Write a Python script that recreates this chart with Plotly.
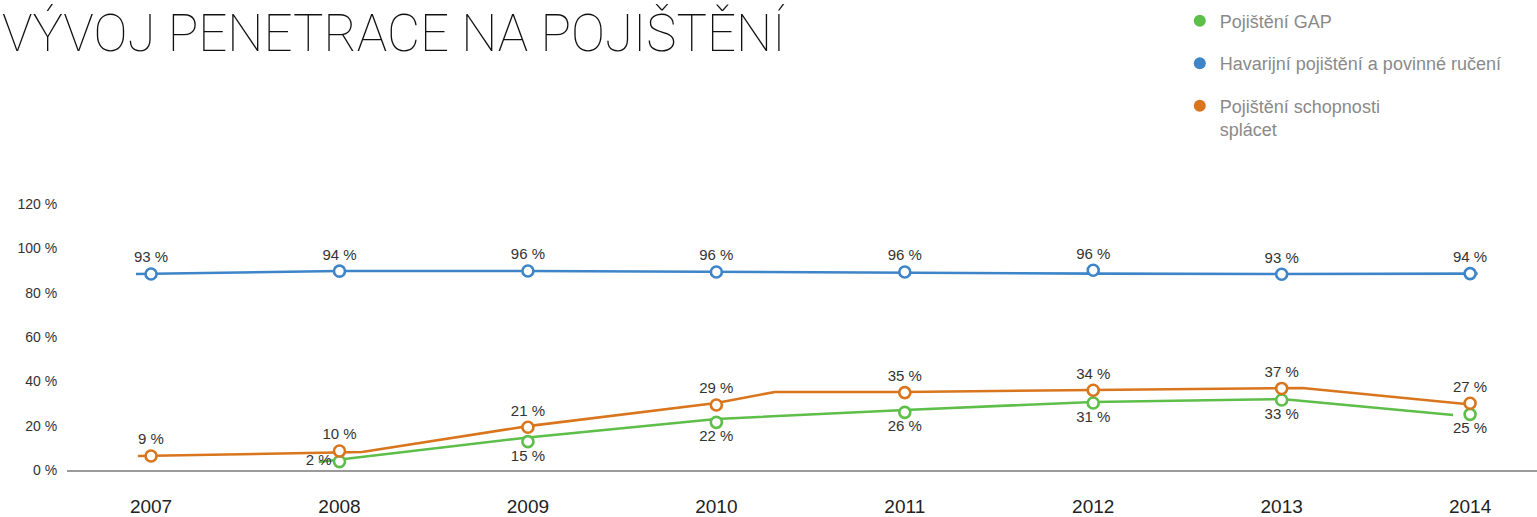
import plotly.graph_objects as go

# ---------------- data ----------------
years = [2007, 2008, 2009, 2010, 2011, 2012, 2013, 2014]
tick_labels = ["2007", "2008", "2009", "2010", "2011", "2012", "2013", "2014"]

# marker positions (as drawn, in %) and the printed labels
gap_pos = [None, 3.8, 12.8, 21.5, 26.0, 30.2, 31.6, 25.1]
gap_labels = ["", "2 %", "15 %", "22 %", "26 %", "31 %", "33 %", "25 %"]

havar_pos = [88.4, 89.7, 89.8, 89.3, 89.3, 90.1, 88.3, 88.6]
havar_labels = ["93 %", "94 %", "96 %", "96 %", "96 %", "96 %", "93 %", "94 %"]

splac_pos = [6.3, 8.6, 19.3, 29.3, 34.9, 36.0, 36.8, 30.1]
splac_labels = ["9 %", "10 %", "21 %", "29 %", "35 %", "34 %", "37 %", "27 %"]

# connecting lines as drawn (vertices)
gap_line_x = [2007.89, 2009.0, 2010.0, 2011.0, 2012.0, 2013.0, 2013.91]
gap_line_y = [3.6, 14.7, 23.0, 27.1, 30.7, 32.0, 24.8]

havar_line_x = [2006.92, 2008.0, 2009.0, 2010.0, 2011.0, 2012.0, 2013.0, 2014.04]
havar_line_y = [88.4, 89.8, 89.8, 89.3, 88.9, 88.6, 88.4, 88.6]

splac_line_x = [2006.93, 2008.0, 2008.12, 2009.0, 2010.0, 2010.31, 2011.0, 2012.0, 2013.0, 2013.11, 2014.03]
splac_line_y = [6.3, 8.1, 8.1, 19.8, 30.2, 35.2, 35.2, 36.1, 37.0, 37.0, 29.3]

y_ticks = [0, 20, 40, 60, 80, 100, 120]
y_tick_labels = ["0 %", "20 %", "40 %", "60 %", "80 %", "100 %", "120 %"]

series_names = ["Pojištění GAP", "Havarijní pojištění a povinné ručení", "Pojištění schopnosti<br>splácet"]

# ---------------- style ----------------
GREEN = "#5DBE4A"
BLUE = "#3D85C8"
ORANGE = "#D8751D"
FONT = "Liberation Sans"
LABEL_COLOR = "#333333"

fig = go.Figure()

# lines
for lx, ly, col in [(gap_line_x, gap_line_y, GREEN),
                    (splac_line_x, splac_line_y, ORANGE),
                    (havar_line_x, havar_line_y, BLUE)]:
    fig.add_trace(go.Scatter(x=lx, y=ly, mode="lines", line=dict(color=col, width=2.6),
                             showlegend=False, hoverinfo="skip"))

# markers + labels
gap_textpos = ["bottom center"] * len(years)
gap_textpos[1] = "middle left"
for pos, labels, col, tpos in [
        (gap_pos, gap_labels, GREEN, gap_textpos),
        (splac_pos, splac_labels, ORANGE, "top center"),
        (havar_pos, havar_labels, BLUE, "top center")]:
    fig.add_trace(go.Scatter(
        x=years, y=pos, mode="markers+text", text=labels, textposition=tpos,
        textfont=dict(family=FONT, size=15, color=LABEL_COLOR),
        marker=dict(symbol="circle", size=11, color="white", line=dict(color=col, width=2.6)),
        showlegend=False, cliponaxis=False))

# legend entries
for name, col in zip(series_names, [GREEN, BLUE, ORANGE]):
    fig.add_trace(go.Scatter(x=[None], y=[None], mode="markers", name=name,
                             legendgroup=name,
                             marker=dict(symbol="circle", size=13, color=col)))

fig.update_layout(
    width=1537, height=517,
    margin=dict(l=67, r=0, t=204, b=47, autoexpand=False),
    paper_bgcolor="white", plot_bgcolor="white",
    font=dict(family=FONT, color=LABEL_COLOR),
    showlegend=True,
    legend=dict(x=0.757, y=1.757, xanchor="left", yanchor="top", valign="top",
                font=dict(family=FONT, size=18, color="#8a8a8a"),
                tracegroupgap=16, itemsizing="constant", bgcolor="rgba(0,0,0,0)"),
    xaxis=dict(range=[2006.554, 2014.355], tickmode="array", tickvals=years, ticktext=tick_labels,
               showgrid=False, zeroline=False, showline=True, linecolor="#9a9a9a", linewidth=1.5,
               ticks="outside", ticklen=18, tickcolor="rgba(0,0,0,0)", automargin=False,
               tickfont=dict(family=FONT, size=19, color="#222222")),
    yaxis=dict(range=[0, 120], tickmode="array", tickvals=y_ticks, ticktext=y_tick_labels,
               showgrid=False, zeroline=False, showline=False, automargin=False,
               ticks="outside", ticklen=6, tickcolor="rgba(0,0,0,0)",
               tickfont=dict(family=FONT, size=14, color="#333333")),
    annotations=[dict(text="VÝVOJ PENETRACE NA POJIŠTĚNÍ", xref="paper", yref="paper",
                      x=-0.0455, y=1.765, xanchor="left", yanchor="top", showarrow=False,
                      font=dict(family="Roboto", size=51, color="#111111", weight=100))],
)

fig.write_html("out.html", config={"displayModeBar": False},
               post_script="document.body.style.margin='0px';")
